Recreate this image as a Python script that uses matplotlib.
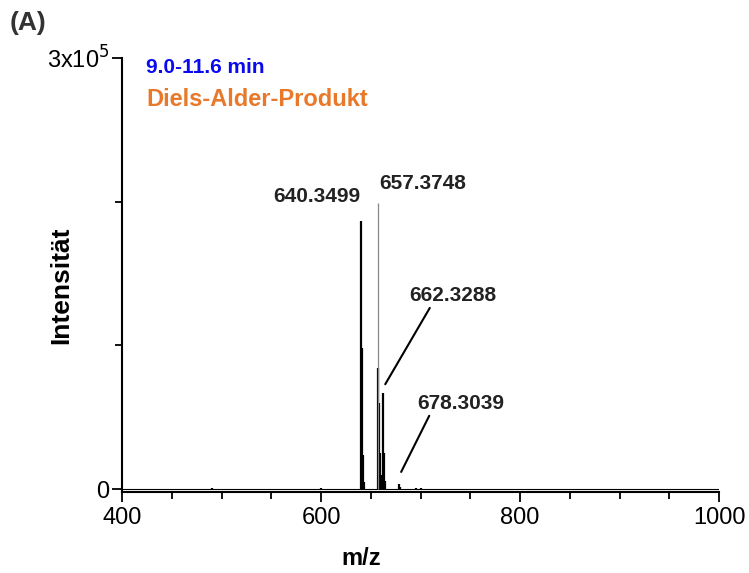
import numpy as np
import matplotlib.pyplot as plt
from matplotlib.ticker import FixedLocator, MultipleLocator

plt.rcParams['font.family'] = ['Liberation Sans', 'DejaVu Sans']

# peaks (m/z, intensity)
mz = [490.3, 600.2, 640.35, 641.35, 642.35, 643.35, 657.37, 658.37, 659.37, 660.37,
      662.33, 663.33, 664.33, 678.30, 679.30, 695.0, 700.0]
inten = [800, 800, 186500, 98000, 24000, 5000, 84000, 60000, 25000, 10000,
         67000, 25000, 6000, 3500, 1200, 600, 600]
# thin grey line on top of 657
mz_top = 657.37
int_top = 199000

labels = ['640.3499', '657.3748', '662.3288', '678.3039']

fig = plt.figure(figsize=(7.49, 5.73), dpi=100)
ax = fig.add_axes([0.163, 0.141, 0.797, 0.758])

ax.axhline(0, color='k', lw=0.8, zorder=1)
ax.vlines(mz, 0, inten, color='k', lw=1.6)
ax.vlines(mz_top, 0, int_top, color='#888888', lw=0.9)

ax.set_xlim(400, 1000)
ax.set_ylim(-2100, 300000)
for s in ['top', 'right']:
    ax.spines[s].set_visible(False)
ax.spines['left'].set_linewidth(1.5)
ax.spines['bottom'].set_linewidth(1.5)

ax.set_xticks([400, 600, 800, 1000])
ax.xaxis.set_minor_locator(MultipleLocator(50))
ax.set_yticks([0, 300000])
ax.set_yticklabels(['0', r'3x10$^5$'])
ax.yaxis.set_minor_locator(FixedLocator([100000, 200000]))
ax.tick_params(axis='both', which='major', direction='out', length=7, width=1.3, labelsize=17)
ax.tick_params(axis='both', which='minor', direction='out', length=5, width=1.3)
ax.tick_params(axis='y', pad=2)

ax.set_xlabel('m/z', fontsize=17, fontweight='bold')
ax.xaxis.set_label_coords(0.4, -0.127)
ax.set_ylabel('Intensität', fontsize=19, fontweight='bold')
ax.yaxis.set_label_coords(-0.082, 0.477)

# peak labels
ax.text(640.0, 197000, labels[0], fontsize=15, fontweight='bold', color='#222222', ha='right', va='bottom')
ax.text(658.0, 206000, labels[1], fontsize=15, fontweight='bold', color='#222222', ha='left', va='bottom')
ax.annotate(labels[2], xy=(664.5, 73000), xytext=(689, 128000), fontsize=15, fontweight='bold',
            color='#222222', ha='left', va='bottom',
            arrowprops=dict(arrowstyle='-', color='k', lw=1.5, shrinkA=0, shrinkB=0,
                            relpos=(0.25, 0)))
ax.annotate(labels[3], xy=(680.5, 12000), xytext=(697, 53000), fontsize=15, fontweight='bold',
            color='#222222', ha='left', va='bottom',
            arrowprops=dict(arrowstyle='-', color='k', lw=1.5, shrinkA=0, shrinkB=0,
                            relpos=(0.15, 0)))

ax.text(0.04, 1.0, '9.0-11.6 min', transform=ax.transAxes, fontsize=15, fontweight='bold',
        color='#0a0af0', va='top')
ax.text(0.04, 0.93, 'Diels-Alder-Produkt', transform=ax.transAxes, fontsize=17, fontweight='bold',
        color='#e8792a', va='top')
fig.text(0.013, 0.98, '(A)', fontsize=19, fontweight='bold', color='#333333', va='top')

fig.savefig('out.png', dpi=100)
